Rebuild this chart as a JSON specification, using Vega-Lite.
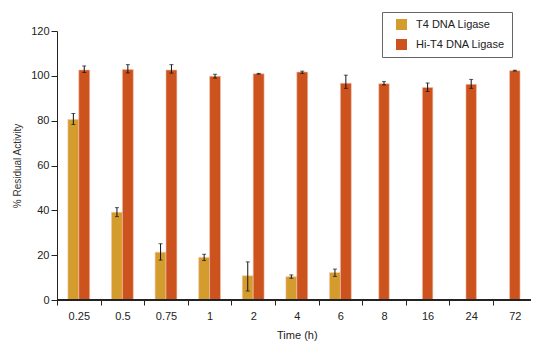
{
  "$schema": "https://vega.github.io/schema/vega-lite/v6.json",
  "width": 474,
  "height": 269,
  "autosize": "none",
  "padding": {"left": 57, "top": 31, "right": 14, "bottom": 52},
  "config": {
    "view": {"stroke": null},
    "font": "Liberation Sans",
    "axis": {"domainColor": "#222", "tickColor": "#222", "labelColor": "#222", "titleColor": "#222", "labelFont": "Liberation Sans", "titleFont": "Liberation Sans", "titleFontWeight": "normal", "labelFontSize": 11, "grid": false}
  },
  "data": {
    "values": [
      {"time": "0.25", "series": "T4 DNA Ligase", "value": 80.5, "lo": 78.3, "hi": 83.2},
      {"time": "0.5", "series": "T4 DNA Ligase", "value": 39.1, "lo": 37.2, "hi": 41.2},
      {"time": "0.75", "series": "T4 DNA Ligase", "value": 21.3, "lo": 17.8, "hi": 25.1},
      {"time": "1", "series": "T4 DNA Ligase", "value": 19, "lo": 17.6, "hi": 20.4},
      {"time": "2", "series": "T4 DNA Ligase", "value": 10.8, "lo": 4, "hi": 17},
      {"time": "4", "series": "T4 DNA Ligase", "value": 10.4, "lo": 9.7, "hi": 11.2},
      {"time": "6", "series": "T4 DNA Ligase", "value": 12.2, "lo": 10.5, "hi": 13.8},
      {"time": "0.25", "series": "Hi-T4 DNA Ligase", "value": 102.6, "lo": 101.5, "hi": 104.4},
      {"time": "0.5", "series": "Hi-T4 DNA Ligase", "value": 102.8, "lo": 101.3, "hi": 105},
      {"time": "0.75", "series": "Hi-T4 DNA Ligase", "value": 102.6, "lo": 101.2, "hi": 105},
      {"time": "1", "series": "Hi-T4 DNA Ligase", "value": 99.8, "lo": 99, "hi": 100.7},
      {"time": "2", "series": "Hi-T4 DNA Ligase", "value": 100.9, "lo": 100.7, "hi": 101.1},
      {"time": "4", "series": "Hi-T4 DNA Ligase", "value": 101.7, "lo": 101.1, "hi": 102.1},
      {"time": "6", "series": "Hi-T4 DNA Ligase", "value": 96.7, "lo": 94.4, "hi": 100.3},
      {"time": "8", "series": "Hi-T4 DNA Ligase", "value": 96.5, "lo": 95.9, "hi": 97.4},
      {"time": "16", "series": "Hi-T4 DNA Ligase", "value": 94.8, "lo": 93, "hi": 96.8},
      {"time": "24", "series": "Hi-T4 DNA Ligase", "value": 96.2, "lo": 94.4, "hi": 98.4},
      {"time": "72", "series": "Hi-T4 DNA Ligase", "value": 102.3, "lo": 102.1, "hi": 102.5}
    ]
  },
  "layer": [
    {
      "encoding": {
        "x": {
          "field": "time", "type": "nominal",
          "sort": ["0.25", "0.5", "0.75", "1", "2", "4", "6", "8", "16", "24", "72"],
          "scale": {"paddingInner": 0, "paddingOuter": 0, "range": [0, 479.6]},
          "axis": {"title": "Time (h)", "labelAngle": 0, "tickBand": "extent", "tickSize": 5, "labelPadding": 5, "titleFontSize": 11, "titlePadding": 8, "domain": false,
            "tickOpacity": {"condition": {"test": "datum.value === '72'", "value": 0}, "value": 1}}
        },
        "y": {
          "field": "value", "type": "quantitative",
          "scale": {"domain": [0, 120]},
          "axis": {"title": "% Residual Activity", "values": [0, 20, 40, 60, 80, 100, 120], "tickSize": 6, "labelPadding": 2, "titleFontSize": 10, "titlePadding": 8, "titleColor": "#333"}
        },
        "color": {
          "field": "series", "type": "nominal",
          "sort": ["T4 DNA Ligase", "Hi-T4 DNA Ligase"],
          "scale": {"domain": ["T4 DNA Ligase", "Hi-T4 DNA Ligase"], "range": ["#d39c2d", "#cc521e"]},
          "legend": {
            "title": null, "orient": "none", "legendX": 325, "legendY": -19,
            "symbolType": "square", "symbolSize": 121, "symbolStrokeWidth": 0,
            "labelFontSize": 11, "labelColor": "#222", "labelFont": "Liberation Sans",
            "strokeColor": "#666", "padding": 7, "symbolOffset": 7, "labelOffset": 9, "rowPadding": 8
          }
        }
      },
      "layer": [
        {
          "transform": [{"filter": {"not": {"field": "time", "oneOf": ["8", "16", "24", "72"]}}}],
          "encoding": {
            "xOffset": {
              "field": "series", "type": "nominal",
              "sort": ["T4 DNA Ligase", "Hi-T4 DNA Ligase"],
              "scale": {"paddingInner": 0, "paddingOuter": 1.12}
            }
          },
          "layer": [
            {"mark": {"type": "bar", "stroke": "#f2c4ae", "strokeWidth": 0.6}},
            {"mark": {"type": "rule", "color": "#111", "strokeWidth": 1},
             "encoding": {"y": {"field": "lo", "type": "quantitative"}, "y2": {"field": "hi"}, "color": {"value": "#111"}}},
            {"mark": {"type": "tick", "color": "#111", "size": 4, "thickness": 1, "orient": "horizontal"},
             "encoding": {"y": {"field": "lo", "type": "quantitative"}, "color": {"value": "#111"}}},
            {"mark": {"type": "tick", "color": "#111", "size": 4, "thickness": 1, "orient": "horizontal"},
             "encoding": {"y": {"field": "hi", "type": "quantitative"}, "color": {"value": "#111"}}}
          ]
        },
        {
          "transform": [{"filter": {"field": "time", "oneOf": ["8", "16", "24", "72"]}}],
          "layer": [
            {"mark": {"type": "bar", "stroke": "#f2c4ae", "strokeWidth": 0.6, "width": {"band": 0.24}}},
            {"mark": {"type": "rule", "color": "#111", "strokeWidth": 1},
             "encoding": {"y": {"field": "lo", "type": "quantitative"}, "y2": {"field": "hi"}, "color": {"value": "#111"}}},
            {"mark": {"type": "tick", "color": "#111", "size": 4, "thickness": 1, "orient": "horizontal"},
             "encoding": {"y": {"field": "lo", "type": "quantitative"}, "color": {"value": "#111"}}},
            {"mark": {"type": "tick", "color": "#111", "size": 4, "thickness": 1, "orient": "horizontal"},
             "encoding": {"y": {"field": "hi", "type": "quantitative"}, "color": {"value": "#111"}}}
          ]
        }
      ]
    },
    {
      "mark": {"type": "rule", "color": "#222", "strokeWidth": 1},
      "encoding": {"y": {"datum": 0, "type": "quantitative"}}
    }
  ]
}
